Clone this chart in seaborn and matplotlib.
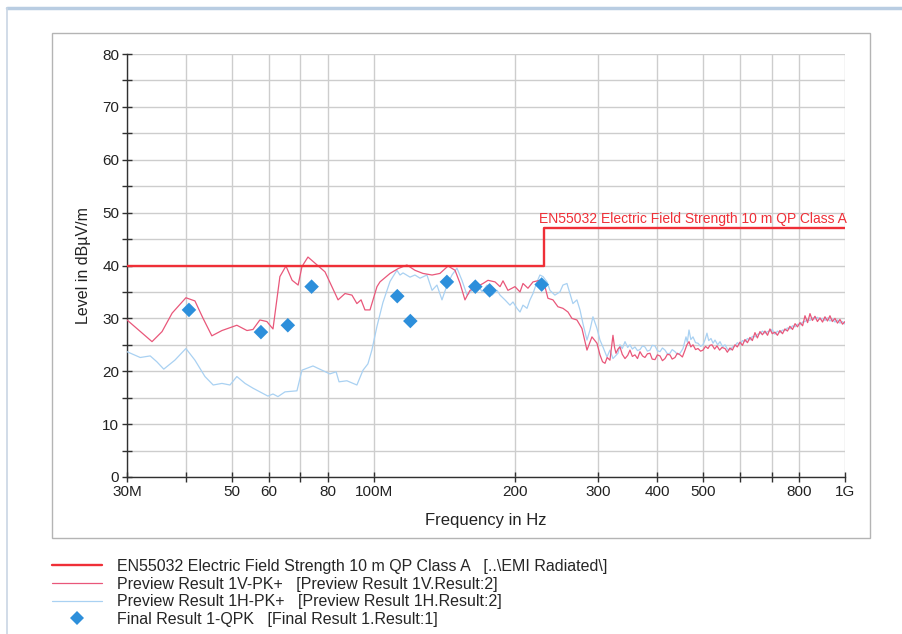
import numpy as np
import pandas as pd
import matplotlib
matplotlib.use("Agg")
import matplotlib.pyplot as plt
from matplotlib.lines import Line2D
from matplotlib.patches import Rectangle
from matplotlib.ticker import FixedLocator, NullFormatter, MultipleLocator, FuncFormatter
import seaborn as sns

# ── Data (frequencies in MHz, levels in dBµV/m) ───────────────────────────────

limit_freq = [30, 230, 230, 1000]
limit_level = [40, 40, 47, 47]

vert_freq = [
    30.0, 33.9, 35.6, 37.4, 40.0, 41.8, 43.5, 45.4, 47.7, 51.3, 53.9, 55.5,
    57.4, 59.4, 61.2, 63.3, 65.2, 67.2, 69.2, 70.5, 72.6, 75.9, 78.9, 81.6,
    84.1, 87.0, 90.0, 92.2, 94.1, 95.9, 98.3, 101.7, 103.2, 108.4, 112.7,
    117.7, 122.4, 127.3, 133.1, 138.3, 143.9, 148.9, 152.6, 156.3, 160.2,
    165.8, 170.7, 174.9, 181.0, 185.5, 188.2, 192.8, 199.5, 204.5, 207.5,
    212.6, 217.9, 225.4, 231.0, 234.4, 240.2, 246.1, 252.2, 258.5, 263.5,
    270.0, 276.7, 283.6, 290.6, 297.8,
    302.2, 306, 309.7, 313, 317.3, 322.0, 324.5, 326.8, 330, 333.2, 337,
    341.5, 346, 349.9, 354, 358.5, 363, 367.4, 372, 376.4, 381, 385.8, 390,
    395.3, 400, 405.1, 410, 415.1, 420, 425.3, 430, 435.9, 441, 446.8, 452,
    457.8, 462, 466.8, 471, 476.0, 482, 487.7, 494, 499.8, 506, 512.1, 517,
    522.2, 529, 535.1, 542, 548.3,
    556.5, 563, 570.2, 577, 584.3, 591, 598.7, 606, 613.5, 621, 628.7, 636,
    644.2, 652, 660.1, 668, 676.4, 685, 693.1, 701, 710.2, 719, 727.7, 737,
    745.7, 755, 764.1, 774, 783.5, 793, 802.8, 813, 822.5, 833, 842.8, 853,
    863.6, 874, 884.9, 896, 906.8, 918, 929.2, 940, 952.1, 964, 975.6, 988,
    1000,
]
vert_level = [
    29.7, 25.6, 27.5, 31.0, 33.9, 33.3, 30.0, 26.7, 27.7, 28.7, 27.7, 27.9,
    29.7, 29.4, 28.0, 37.9, 39.9, 37.2, 36.3, 39.8, 41.6, 40.1, 38.8, 36.0,
    33.5, 34.7, 34.4, 32.8, 33.5, 31.6, 31.6, 36.0, 36.9, 38.5, 39.4,
    40.1, 39.1, 38.5, 38.2, 38.5, 39.9, 39.1, 36.6, 33.5, 35.3,
    36.0, 36.6, 37.2, 36.9, 36.0, 37.1, 35.3, 36.0, 35.0, 36.6,
    35.7, 36.9, 37.2, 36.0, 33.8, 33.5, 32.2, 31.9, 31.2, 30.0,
    29.7, 28.1, 24.0, 26.5, 25.3,
    23.1, 21.8, 21.5, 22.6, 22.1, 26.8, 24.5, 23.4, 24.2, 24.6, 23.2,
    22.4, 23.0, 24.0, 22.8, 23.1, 22.4, 23.7, 22.9, 22.6, 23.3, 23.4, 22.3,
    22.2, 23.1, 22.9, 22.0, 22.4, 23.2, 23.1, 22.3, 22.6, 23.4, 23.1, 22.7,
    24.0, 25.0, 25.6, 24.6, 25.0, 24.1, 24.3, 23.8, 24.0, 24.7, 24.3, 24.9,
    25.0, 24.2, 24.8, 24.0, 24.5,
    24.3, 23.6, 24.4, 24.0, 25.0, 24.6, 25.5, 24.9, 26.0, 25.4, 26.4, 25.8,
    27.3, 26.3, 27.5, 26.9, 27.6, 26.8, 28.0, 27.1, 27.4, 26.8, 27.7, 27.1,
    28.0, 27.6, 28.5, 27.9, 29.0, 28.4, 29.2, 28.6, 30.5, 29.2, 30.9, 29.6,
    30.4, 29.4, 30.1, 29.3, 30.3, 29.5, 30.5, 29.4, 30.0, 29.1, 29.8, 28.9,
    29.4,
]

horiz_freq = [
    30.0, 32.0, 33.6, 34.7, 35.9, 37.9, 40.0, 41.8, 43.9, 45.7, 47.7, 49.6,
    51.3, 53.4, 55.5, 57.4, 59.7, 61.2, 62.7, 64.9, 68.8, 70.5, 74.4, 77.8,
    80.8, 83.3, 84.5, 87.8, 92.2, 95.0, 97.3, 99.2, 101.7, 104.7, 108.4,
    112.1, 113.8, 115.5, 119.5, 122.4, 125.5, 129.8, 133.1, 136.3, 139.7,
    143.2, 146.7, 150.3, 154.0, 157.9, 161.8, 165.8, 169.9, 174.1, 178.4,
    182.8, 185.5, 190.0, 194.7, 197.6, 201.5, 204.5, 207.5, 211.6, 214.7,
    217.9, 222.2, 225.4, 228.8, 233.3, 236.7, 242.5, 248.5, 252.2, 257.2,
    261.0, 264.8, 270.0, 274.1, 278.1, 283.6, 287.8, 292.0, 297.8, 302.2,
    306.6, 312.7, 317.3, 322.0, 330.0, 333.2, 337, 341.5, 346, 349.9, 354,
    358.5, 363, 367.4, 372, 376.4, 381, 385.8, 390, 395.3, 400, 405.1, 410,
    415.1, 420, 425.3, 430, 435.9, 441, 446.8, 453.3, 460.0, 463, 466.8,
    471, 476.0, 482, 487.7, 494, 499.8, 505, 509.6, 514, 519.7, 525, 530.0,
    537, 543.1, 550, 556.5,
    563, 570.2, 577, 584.3, 591, 598.7, 606, 613.5, 621, 628.7, 636, 644.2,
    652, 660.1, 668, 676.4, 685, 693.1, 701, 710.2, 719, 727.7, 737, 745.7,
    755, 764.1, 774, 783.5, 793, 802.8, 813, 822.5, 833, 842.8, 853, 863.6,
    874, 884.9, 896, 906.8, 918, 929.2, 940, 952.1, 964, 975.6, 988, 1000,
]
horiz_level = [
    23.7, 22.6, 22.9, 21.8, 20.4, 22.1, 24.3, 22.1, 19.0, 17.4, 17.7, 17.4,
    19.0, 17.7, 16.8, 16.1, 15.3, 15.7, 15.2, 16.1, 16.3, 20.2, 21.0, 20.2,
    19.5, 19.9, 18.0, 18.2, 17.4, 20.2, 21.4, 24.0, 28.5, 33.0, 37.0,
    39.1, 38.2, 38.6, 37.8, 38.2, 37.6, 38.2, 35.3, 36.3, 33.5,
    36.3, 38.2, 39.5, 37.2, 34.4, 35.3, 36.7, 35.0, 36.3, 34.4,
    35.3, 34.4, 33.5, 32.5, 33.1, 31.9, 31.2, 32.5, 31.9, 33.5,
    34.7, 36.9, 38.2, 37.9, 36.9, 35.3, 34.4, 35.0, 36.3, 36.6,
    34.7, 32.8, 33.5, 31.6, 29.0, 25.9, 27.8, 30.3, 28.1, 25.9,
    24.6, 22.7, 24.0, 22.4, 23.4, 25.0, 24.3, 25.6, 24.5, 25.0, 24.2,
    24.6, 23.9, 24.1, 24.8, 24.6, 23.8, 24.0, 24.9, 24.8, 23.9, 23.7, 24.4,
    24.0, 23.3, 23.4, 24.1, 23.7, 23.2, 23.4, 24.3, 26.5, 25.5, 27.8,
    26.0, 26.5, 25.4, 25.3, 24.7, 25.0, 26.0, 27.2, 25.8, 26.2, 25.3, 25.9,
    25.0, 25.6, 24.6, 25.0,
    24.2, 24.0, 24.6, 24.8, 25.4, 25.1, 25.8, 25.6, 26.2, 25.9, 26.6, 26.5,
    27.0, 27.1, 27.6, 27.2, 27.5, 27.6, 27.9, 27.0, 27.6, 27.3, 27.8, 27.7,
    28.2, 28.0, 28.6, 28.4, 28.9, 28.8, 29.3, 29.4, 29.8, 29.6, 30.1, 29.9,
    30.2, 29.8, 30.0, 29.6, 30.1, 29.5, 29.9, 29.3, 29.7, 29.1, 29.4, 28.9,
]

final_freq = [40.6, 57.7, 65.8, 73.9, 112.3, 119.7, 143.1, 164.4, 176.3, 227.3]
final_level = [31.6, 27.4, 28.7, 36.0, 34.2, 29.5, 36.9, 36.0, 35.3, 36.4]

x_ticks = [30, 40, 50, 60, 70, 80, 100, 200, 300, 400, 500, 600, 700, 800, 1000]
x_tick_labels = ["30M", "", "50", "60", "", "80", "100M", "200", "300",
                 "400", "500", "", "", "800", "1G"]

legend_labels = [
    "EN55032 Electric Field Strength 10 m QP Class A   [..\\EMI Radiated\\]",
    "Preview Result 1V-PK+   [Preview Result 1V.Result:2]",
    "Preview Result 1H-PK+   [Preview Result 1H.Result:2]",
    "Final Result 1-QPK   [Final Result 1.Result:1]",
]
limit_text = "EN55032 Electric Field Strength 10 m QP Class A"

LIMIT_COLOR = "#ef2f37"
VERT_COLOR = "#e9577a"
HORIZ_COLOR = "#a9d1f2"
FINAL_COLOR = "#2d8fdb"

# ── Styling ────────────────────────────────────────────────────────────────────

sns.set_theme(style="white")
plt.rcParams["font.family"] = ["Liberation Sans", "DejaVu Sans"]

fig = plt.figure(figsize=(9.03, 6.34), dpi=100)
ax = fig.add_axes([127 / 903, 1 - 477 / 634, 718 / 903, 423 / 634])

# outer panel decorations
fig.add_artist(Rectangle((52 / 903, 1 - 538 / 634), 818 / 903, 505 / 634,
                         transform=fig.transFigure, fill=False,
                         edgecolor="#b4b4b4", linewidth=1.0))
fig.add_artist(Line2D([7 / 903, 1], [1 - 8 / 634, 1 - 8 / 634],
                      transform=fig.transFigure, color="#b9cde2", linewidth=2.5))
fig.add_artist(Line2D([7 / 903, 7 / 903], [0, 1 - 8 / 634],
                      transform=fig.transFigure, color="#c9d6e4", linewidth=1.2))

# ── Series ─────────────────────────────────────────────────────────────────────

df_v = pd.DataFrame({"freq": vert_freq, "level": vert_level})
df_h = pd.DataFrame({"freq": horiz_freq, "level": horiz_level})
df_lim = pd.DataFrame({"freq": limit_freq, "level": limit_level})
df_fin = pd.DataFrame({"freq": final_freq, "level": final_level})

sns.lineplot(data=df_h, x="freq", y="level", ax=ax, color=HORIZ_COLOR,
             linewidth=0.9, sort=False, estimator=None, zorder=3)
sns.lineplot(data=df_v, x="freq", y="level", ax=ax, color=VERT_COLOR,
             linewidth=0.9, sort=False, estimator=None, zorder=4)
sns.lineplot(data=df_lim, x="freq", y="level", ax=ax, color=LIMIT_COLOR,
             linewidth=1.7, sort=False, estimator=None, zorder=5)
sns.scatterplot(data=df_fin, x="freq", y="level", ax=ax, color=FINAL_COLOR,
                marker="D", s=55, edgecolor="none", zorder=6)

ax.text(224.3, 47.4, limit_text, color=LIMIT_COLOR, fontsize=10,
        ha="left", va="bottom", zorder=6)

# ── Axes ───────────────────────────────────────────────────────────────────────

ax.set_xscale("log")
ax.set_xlim(30, 1000)
ax.set_ylim(0, 80)
ax.xaxis.set_major_locator(FixedLocator(x_ticks))
ax.xaxis.set_minor_locator(FixedLocator([]))
ax.xaxis.set_minor_formatter(NullFormatter())
ax.set_xticklabels(x_tick_labels)
# grid every 5 dB, labels only every 10 dB
ax.yaxis.set_major_locator(MultipleLocator(5))
ax.yaxis.set_major_formatter(FuncFormatter(lambda v, _: f"{v:.0f}" if v % 10 == 0 else ""))

for side in ("top", "right"):
    ax.spines[side].set_visible(False)
for side in ("left", "bottom"):
    ax.spines[side].set_color("#303030")
    ax.spines[side].set_linewidth(1.0)

ax.tick_params(axis="both", which="major", direction="inout", length=7,
               width=1, color="#303030", labelsize=11, labelcolor="#222222",
               pad=2, bottom=True, left=True)

ax.grid(True, which="major", color="#cdcdcd", linewidth=1.0)
ax.set_axisbelow(True)

ax.set_xlabel("Frequency in Hz", fontsize=12, color="#222222", labelpad=10)
ax.set_ylabel("Level in dBµV/m", fontsize=11.5, color="#222222", labelpad=8)

# ── Legend ─────────────────────────────────────────────────────────────────────

handles = [
    Line2D([], [], color=LIMIT_COLOR, linewidth=1.7),
    Line2D([], [], color=VERT_COLOR, linewidth=0.9),
    Line2D([], [], color=HORIZ_COLOR, linewidth=0.9),
    Line2D([], [], color=FINAL_COLOR, marker="D", markersize=7,
           linestyle="none", markeredgewidth=0),
]
fig.legend(handles, legend_labels, loc="upper left",
           bbox_to_anchor=(52 / 903, 1 - 559 / 634), frameon=False,
           fontsize=11.5, handlelength=3.1, handletextpad=1.0,
           labelspacing=0.16, borderpad=0, borderaxespad=0)

plt.savefig("out.png", dpi=100)
plt.close()
